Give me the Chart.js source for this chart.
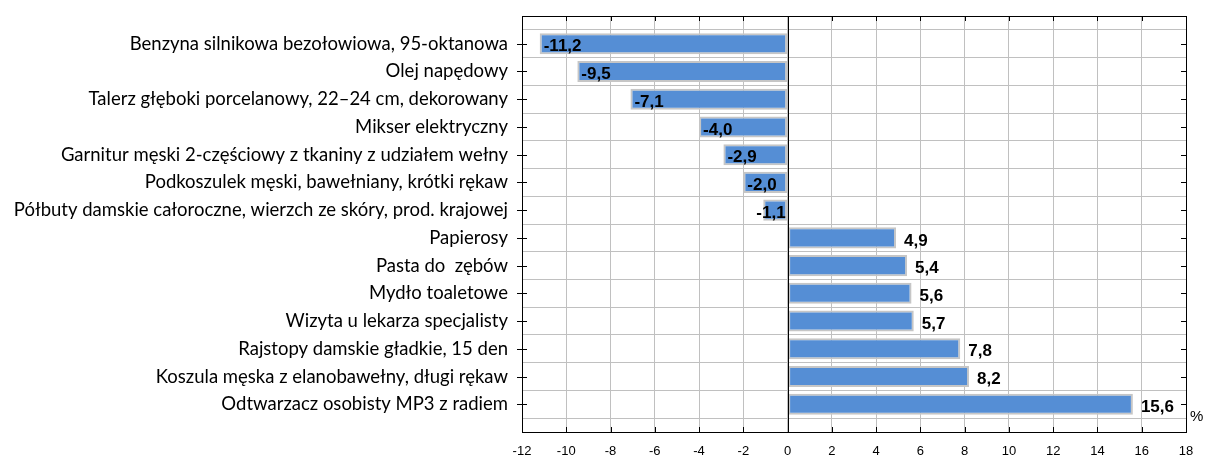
<!DOCTYPE html>
<html>
<head>
<meta charset="utf-8">
<script src="https://cdn.jsdelivr.net/npm/chart.js@4"></script>
<style>
  html, body { margin: 0; padding: 0; background: #fff; }
  #wrap { position: relative; width: 1207px; height: 456px; }
  #pct { position: absolute; left: 1190px; top: 407px; font: 15px "Liberation Sans", Arial, sans-serif; color: #000; }
</style>
</head>
<body>
<div id="wrap">
  <canvas id="chart" width="1207" height="456"></canvas>
  <div id="pct">%</div>
</div>
<script>
// dane
const categories = [
  'Benzyna silnikowa bezołowiowa, 95-oktanowa',
  'Olej napędowy',
  'Talerz głęboki porcelanowy, 22–24 cm, dekorowany',
  'Mikser elektryczny',
  'Garnitur męski 2-częściowy z tkaniny z udziałem wełny',
  'Podkoszulek męski, bawełniany, krótki rękaw',
  'Półbuty damskie całoroczne, wierzch ze skóry, prod. krajowej',
  'Papierosy',
  'Pasta do  zębów',
  'Mydło toaletowe',
  'Wizyta u lekarza specjalisty',
  'Rajstopy damskie gładkie, 15 den',
  'Koszula męska z elanobawełny, długi rękaw',
  'Odtwarzacz osobisty MP3 z radiem'
]
const values = [-11.2, -9.5, -7.1, -4.0, -2.9, -2.0, -1.1, 4.9, 5.4, 5.6, 5.7, 7.8, 8.2, 15.6]
const xMin = -12, xMax = 18, xStep = 2

// pusta kategoria na górze i na dole (margines osi)
const labels = ['', ...categories, '']
const data = [null, ...values, null]

const fmt = v => v.toFixed(1).replace('.', ',')

// ramka + znaczniki osi + etykiety wartości
const framePlugin = {
  id: 'frame',
  afterDraw(chart) {
    const { ctx, chartArea: a, scales: { x, y } } = chart
    ctx.save()
    ctx.strokeStyle = '#000'
    ctx.lineWidth = 1
    ctx.strokeRect(a.left + 0.5, a.top + 0.5, a.right - a.left, a.bottom - a.top)
    ctx.beginPath()
    for (let v = xMin; v <= xMax; v += xStep) {
      const px = Math.round(x.getPixelForValue(v)) + 0.5
      ctx.moveTo(px, a.top); ctx.lineTo(px, a.top + 5)
      ctx.moveTo(px, a.bottom); ctx.lineTo(px, a.bottom - 5)
    }
    categories.forEach((c, i) => {
      const py = Math.round(y.getPixelForValue(i + 1)) + 0.5
      ctx.moveTo(a.left - 5, py); ctx.lineTo(a.left + 5, py)
      ctx.moveTo(a.right - 5, py); ctx.lineTo(a.right, py)
    })
    // linia zera
    const z = Math.round(x.getPixelForValue(0)) + 0.5
    ctx.moveTo(z, a.top); ctx.lineTo(z, a.bottom)
    ctx.stroke()
    ctx.restore()
  },
  afterDatasetsDraw(chart) {
    const { ctx, scales: { x } } = chart
    const meta = chart.getDatasetMeta(0)
    const zero = x.getPixelForValue(0)
    ctx.save()
    ctx.font = 'bold 17px "Liberation Sans", Arial, sans-serif'
    ctx.fillStyle = '#000'
    ctx.textBaseline = 'middle'
    meta.data.forEach((bar, i) => {
      const v = data[i]
      if (v == null) return
      const t = fmt(v)
      const w = ctx.measureText(t).width
      let px
      if (v < 0) px = Math.min(bar.x + 4, zero - 2 - w)
      else px = bar.x + 8
      ctx.fillText(t, px, bar.y + 3)
    })
    ctx.restore()
  }
}

new Chart(document.getElementById('chart'), {
  type: 'bar',
  data: {
    labels,
    datasets: [{
      data,
      backgroundColor: '#558ed5',
      borderColor: '#c6c6c6',
      borderWidth: 2,
      borderSkipped: false,
      categoryPercentage: 1,
      barPercentage: 0.76
    }]
  },
  options: {
    indexAxis: 'y',
    responsive: false,
    animation: false,
    layout: { padding: { top: 16, right: 21, bottom: 0, left: 0 } },
    plugins: { legend: { display: false }, tooltip: { enabled: false } },
    scales: {
      x: {
        min: xMin, max: xMax,
        ticks: { stepSize: xStep, color: '#000', font: { family: '"Liberation Sans Narrow", "Liberation Sans", Arial', size: 13 }, padding: 12 },
        grid: { color: '#c0c0c0', drawTicks: false },
        border: { display: false },
        afterFit(s) { s.height = 24; s.paddingLeft = 0; s.paddingRight = 0 }
      },
      y: {
        offset: false,
        ticks: { color: '#000', font: { family: 'Lato, "Open Sans", sans-serif', size: 18.5 }, padding: 14, autoSkip: false },
        grid: { color: '#c0c0c0', drawTicks: false },
        border: { display: false },
        afterFit(s) { s.width = 522; s.paddingTop = 0; s.paddingBottom = 0 }
      }
    }
  },
  plugins: [framePlugin]
})
</script>
</body>
</html>
